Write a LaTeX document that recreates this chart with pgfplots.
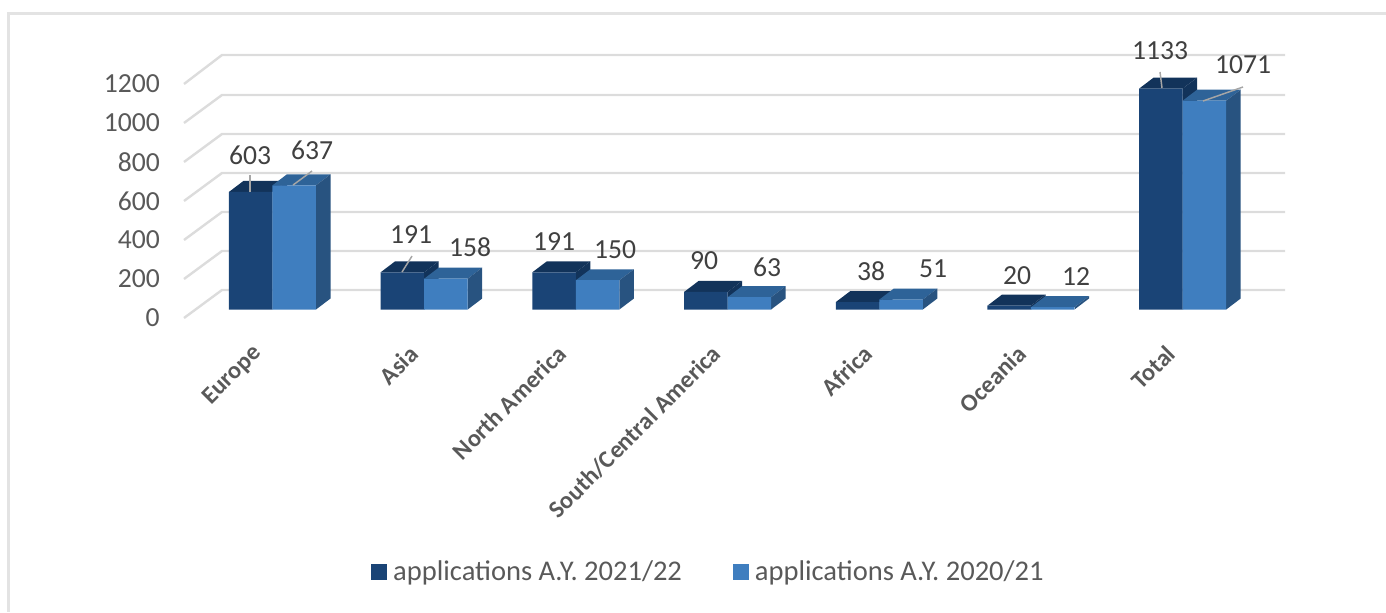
\documentclass[border=0pt]{standalone}
\usepackage{pgfplots}
\usepackage{fontspec}
\setmainfont{Carlito}
\pgfplotsset{compat=1.18}
\definecolor{darkF}{HTML}{1A4476}
\definecolor{darkT}{HTML}{12335A}
\definecolor{darkS}{HTML}{12335A}
\definecolor{lightF}{HTML}{3F7EBF}
\definecolor{lightT}{HTML}{2E6398}
\definecolor{lightS}{HTML}{285380}
\definecolor{wall}{HTML}{DCDCDC}
\definecolor{txt}{HTML}{595959}
\definecolor{lab}{HTML}{404040}
\definecolor{lead}{HTML}{A6A6A6}
\newcommand\topside[4]{%
 \pgfmathsetmacro\xa{#1+43.5}\pgfmathsetmacro\xb{#1+58}\pgfmathsetmacro\xc{#1+14.5}\pgfmathsetmacro\yt{#2+56.4}%
 \addplot[fill=#3,draw=none,forget plot] coordinates {(#1,#2)(\xa,#2)(\xb,\yt)(\xc,\yt)} --cycle;
 \addplot[fill=#4,draw=none,forget plot] coordinates {(\xa,0)(\xa,#2)(\xb,\yt)(\xb,56.4)} --cycle;
}
\newcommand\wallline[2]{%
 \addplot[wall,line width=1.8pt,forget plot] coordinates {(184,#1)(222,#2)(1285,#2)};
}
\newcommand\leader[4]{%
 \addplot[lead,line width=1.1pt,forget plot] coordinates {(#1,#2)(#3,#4)};
}
\pgfplotstableread{
x y
250.7 603
402.4 191
554.1 191
705.8 90
857.5 38
1009.2 20
1160.9 1133
}\darktable
\pgfplotstableread{
x y
294.2 637
445.9 158
597.6 150
749.3 63
901.0 51
1052.7 12
1204.4 1071
}\lighttable
\pgfplotstableread{
x y l
250 792 603
312 818 637
411 382 191
470 321 158
554 346 191
615 305 150
704 249 90
767 218 63
871 197 38
933 208 51
1017 172 20
1076 167 12
1160 1326 1133
1243 1254 1071
}\labeltable
\begin{document}
\begin{tikzpicture}[x=1pt,y=1pt]
\useasboundingbox (0,0) rectangle (1039.5,459);
\draw[color=wall!80,line width=1.8pt] (6.4,0) -- (6.4,448.8) -- (1039.5,448.8);
\begin{axis}[
 at={(138pt,220.5pt)},anchor=south west,
 scale only axis,width=825.75pt,height=197.25pt,
 xmin=184,xmax=1285,ymin=-43.6,ymax=1305,
 axis line style={draw=none},
 clip=false,
 tick style={draw=none},
 ytick={-43.6,156.4,356.4,556.4,756.4,956.4,1156.4},
 yticklabels={0,200,400,600,800,1000,1200},
 yticklabel style={font=\fontsize{20.7}{24}\selectfont,text=txt,anchor=east,inner sep=0pt,xshift=-18pt},
 xtick={262,418,566,721,872,1026,1175},
 xticklabels={Europe,Asia,North America,South/Central America,Africa,Oceania,Total},
 xticklabel style={font=\fontsize{18.3}{22}\selectfont\bfseries,text=txt,rotate=45,anchor=east,inner sep=0pt,xshift=-19pt,yshift=-14.7pt},
 legend style={at={(0.166,-0.966)},anchor=west,draw=none,fill=none,
   font=\fontsize{21.4}{24}\selectfont,text=txt,legend columns=2,
   /tikz/every odd column/.style={column sep=3pt},
   /tikz/every even column/.style={column sep=36pt}},
 legend cell align=left,
]
\wallline{-43.6}{100}
\wallline{156.4}{300}
\wallline{356.4}{500}
\wallline{556.4}{700}
\wallline{756.4}{900}
\wallline{956.4}{1100}
\wallline{1156.4}{1305}
\addlegendimage{legend image code/.code={\fill[darkF] (0,-5.6pt) rectangle (11.25pt,5.6pt);}}
\addlegendentry{applications A.Y. 2021/22}
\addlegendimage{legend image code/.code={\fill[lightF] (0,-5.6pt) rectangle (11.25pt,5.6pt);}}
\addlegendentry{applications A.Y. 2020/21}
\topside{229}{603}{darkT}{darkS}
\topside{380.7}{191}{darkT}{darkS}
\topside{532.4}{191}{darkT}{darkS}
\topside{684.1}{90}{darkT}{darkS}
\topside{835.8}{38}{darkT}{darkS}
\topside{987.5}{20}{darkT}{darkS}
\topside{1139.2}{1133}{darkT}{darkS}
\addplot[ybar,bar width=43.5,fill=darkF,draw=none,forget plot] table[x=x,y=y] {\darktable};
\topside{272.5}{637}{lightT}{lightS}
\topside{424.2}{158}{lightT}{lightS}
\topside{575.9}{150}{lightT}{lightS}
\topside{727.6}{63}{lightT}{lightS}
\topside{879.3}{51}{lightT}{lightS}
\topside{1031}{12}{lightT}{lightS}
\topside{1182.7}{1071}{lightT}{lightS}
\addplot[ybar,bar width=43.5,fill=lightF,draw=none,forget plot] table[x=x,y=y] {\lighttable};
\leader{250}{603}{250}{690}
\leader{293}{638}{312}{710}
\leader{402}{192}{412}{274}
\leader{1162}{1136}{1160}{1218}
\leader{1203}{1069}{1243}{1141}
\addplot[draw=none,forget plot,point meta=explicit symbolic,
  nodes near coords,
  nodes near coords style={anchor=center,inner sep=0pt,text=lab,font=\fontsize{20.7}{24}\selectfont}]
  table[x=x,y=y,meta=l] {\labeltable};
\end{axis}
\end{tikzpicture}
\end{document}
